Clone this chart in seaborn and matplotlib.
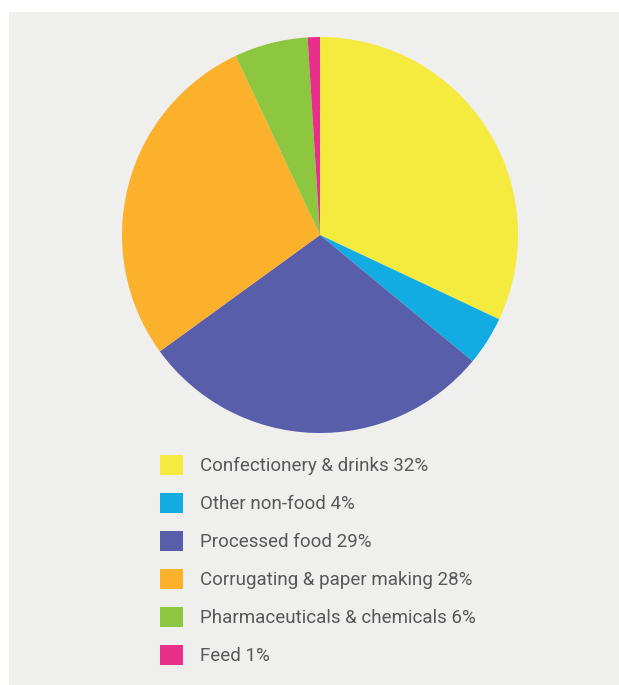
import matplotlib
matplotlib.use("Agg")
import matplotlib.pyplot as plt
import seaborn as sns
from matplotlib.patches import Patch, Rectangle

categories = ["Confectionery & drinks", "Other non-food", "Processed food",
              "Corrugating & paper making", "Pharmaceuticals & chemicals", "Feed"]
values = [32, 4, 29, 28, 6, 1]
colors = ["#F5EA3E", "#12ACE3", "#585EAA", "#FBB12B", "#8DC63F", "#E8308B"]
labels = [f"{c} {v}%" for c, v in zip(categories, values)]

sns.set_theme(style="white")
plt.rcParams["font.family"] = ["Liberation Sans Narrow", "Roboto", "DejaVu Sans"]

fig = plt.figure(figsize=(6.19, 6.85), dpi=100)
fig.patch.set_facecolor("white")
bg = Rectangle((9 / 619, 0), 1 - 9 / 619, 1 - 12 / 685, transform=fig.transFigure,
               facecolor="#EFEFEE", edgecolor="none", zorder=-10)
fig.patches.append(bg)

ax = fig.add_axes([122 / 619, 1 - 433 / 685, 396 / 619, 396 / 685])
ax.set_facecolor("none")
wedges, _ = ax.pie(values, colors=colors, startangle=90, counterclock=False,
                   wedgeprops=dict(linewidth=0))
ax.set_xlim(-1, 1)
ax.set_ylim(-1, 1)
ax.set_aspect("equal")
ax.axis("off")

handles = [Patch(facecolor=c, edgecolor="none") for c in colors]
fig.legend(handles, labels, loc="upper left",
           bbox_to_anchor=(160 / 619, 1 - 455 / 685),
           frameon=False, fontsize=13.5, borderpad=0, borderaxespad=0,
           handlelength=1.25, handleheight=1.25, handletextpad=0.9,
           labelspacing=0.95, labelcolor="#58585A")

fig.savefig("out.png", dpi=100)
